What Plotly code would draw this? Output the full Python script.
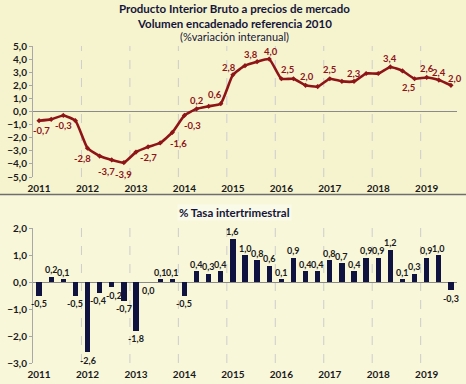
import plotly.graph_objects as go

# ---------------- data ----------------
years = [2011, 2012, 2013, 2014, 2015, 2016, 2017, 2018, 2019]
quarters = [f"{y}T{q}" for y in years for q in range(1, 5)][:35]

# year-on-year % change (top panel)
interanual = [-0.7, -0.6, -0.3, -0.7,
              -2.8, -3.4, -3.7, -3.9,
              -3.1, -2.7, -2.4, -1.6,
              -0.3, 0.2, 0.4, 0.6,
              2.8, 3.5, 3.8, 4.0,
              2.5, 2.5, 2.0, 1.9,
              2.5, 2.3, 2.3, 2.9,
              2.9, 3.4, 3.1, 2.5,
              2.6, 2.4, 2.0]

# quarter-on-quarter % change (bottom panel)
intertrimestral = [-0.5, 0.2, 0.1, -0.5,
                   -2.6, -0.4, -0.2, -0.7,
                   -1.8, 0.0, 0.1, 0.1,
                   -0.5, 0.4, 0.3, 0.4,
                   1.6, 1.0, 0.8, 0.6,
                   0.1, 0.9, 0.4, 0.4,
                   0.8, 0.7, 0.4, 0.9,
                   0.9, 1.2, 0.1, 0.3,
                   0.9, 1.0, -0.3]

# indices of top-panel points that carry a data label
top_label_idx = [0, 2, 4, 6, 7, 9, 11, 12, 13, 15, 16, 18, 19, 20, 22,
                 24, 26, 29, 31, 32, 33, 34]

year_ticks = [str(y) for y in years]

# ---------------- styling ----------------
RED = "#8E1418"
NAVY = "#10123F"
FONT = "Lato"
TXT = "#1A1A1A"

# label pixel offsets (dx, dy; dy positive = down) for the top labels
top_offsets = {0: (2, 10), 2: (0, 10), 4: (-5, 10), 6: (-5, 12), 7: (0, 12),
               9: (0, 11), 11: (6, 11), 12: (8, 10), 13: (0, -8), 15: (-6, -9),
               16: (-4, -7), 18: (-6, -7), 19: (2, -8), 20: (6, -9), 22: (1, -9),
               24: (0, -9), 26: (0, -8), 29: (0, -8), 31: (-6, 9), 32: (0, -9),
               33: (0, -8), 34: (4, -7)}
# horizontal nudges for crowded bottom labels
bottom_dx = {5: -2, 6: 2}

xs = list(range(len(quarters)))

fig = go.Figure()

fig.add_trace(go.Scatter(
    x=xs, y=interanual, mode="lines+markers",
    line=dict(color=RED, width=2.6, shape="spline", smoothing=0.45),
    marker=dict(color=RED, size=4, symbol="diamond"),
    xaxis="x", yaxis="y", showlegend=False, hoverinfo="skip", cliponaxis=False))

fig.add_trace(go.Bar(
    x=xs, y=intertrimestral, width=0.44, marker=dict(color=NAVY, line=dict(width=0)),
    xaxis="x2", yaxis="y2", showlegend=False, hoverinfo="skip"))

annotations = []
for k in top_label_idx:
    dx, dy = top_offsets[k]
    annotations.append(dict(
        x=k, y=interanual[k], xref="x", yref="y",
        text=f"{interanual[k]:.1f}".replace(".", ","),
        showarrow=False, xshift=dx, yshift=-dy, xanchor="center", yanchor="middle",
        font=dict(family=FONT, size=9.5, color=RED, weight="bold")))

for k, v in enumerate(intertrimestral):
    annotations.append(dict(
        x=k, y=v, xref="x2", yref="y2",
        text=f"{v:.1f}".replace(".", ","),
        showarrow=False, yshift=(7 if v > 0 else -8), xshift=bottom_dx.get(k, 0),
        xanchor="center", yanchor="middle",
        font=dict(family=FONT, size=9, color=TXT, weight="bold")))

# titles
def title(text, ypix, size):
    return dict(x=0.503, y=1 - ypix / 384, xref="paper", yref="paper", showarrow=False,
                xanchor="center", yanchor="middle", text=text,
                font=dict(family=FONT, size=size, color="#15153A"))

annotations += [
    title("<b>Producto Interior Bruto a precios de mercado</b>", 8, 11.5),
    title("<b>Volumen encadenado referencia 2010</b>", 23, 11.5),
    title("(%variación interanual)", 37, 11),
    dict(title("<b>% Tasa intertrimestral</b>", 212, 11.5), bgcolor="#FAFAE8"),
]

shapes = [
    dict(type="rect", xref="paper", yref="paper", x0=0, x1=1, y0=1 - 194 / 384, y1=1,
         fillcolor="#F6F4CF", line=dict(width=0), layer="below"),
    dict(type="rect", xref="paper", yref="paper", x0=0, x1=1, y0=0, y1=1 - 194 / 384,
         fillcolor="#F8F7DA", line=dict(width=0), layer="below"),
    dict(type="line", xref="paper", yref="paper", x0=0, x1=1,
         y0=1 - 194.5 / 384, y1=1 - 194.5 / 384,
         line=dict(color="#6E6E6E", width=1.5)),
]

# dashed year separators (between Q4 and Q1)
grid_vals = [3.5 + 4 * i for i in range(8)]
for xr, yr in (("x", "y domain"), ("x2", "y2 domain")):
    for g in grid_vals:
        shapes.append(dict(type="line", xref=xr, yref=yr, x0=g, x1=g, y0=0, y1=1,
                           line=dict(color="#CDCDCD", width=1, dash="dash"),
                           layer="below"))

def xaxis_common(anchor):
    return dict(
        anchor=anchor, domain=[33 / 466, 457 / 466], range=[-0.5, 34.5],
        tickmode="array", tickvals=[4 * i for i in range(len(years))], ticktext=year_ticks,
        showgrid=False, zeroline=False, showline=False, ticks="",
        ticklabelstandoff=4, automargin=False,
        tickfont=dict(family=FONT, size=10, color=TXT, weight="bold"),
        fixedrange=True)

def yaxis_common(anchor, domain, rng):
    return dict(
        anchor=anchor, domain=domain, range=rng, dtick=1, tickformat=".1f",
        showgrid=False, zeroline=True, zerolinecolor="#8A8A8A", zerolinewidth=1,
        showline=True, linecolor="#A8A8A8", linewidth=1,
        ticks="outside", ticklen=3, tickcolor="#A8A8A8", automargin=False,
        tickfont=dict(family=FONT, size=10, color=TXT, weight="bold"),
        fixedrange=True)

fig.update_layout(
    width=466, height=384,
    margin=dict(l=0, r=0, t=0, b=0),
    paper_bgcolor="#F7F6D4", plot_bgcolor="white",
    separators=", ",
    xaxis=xaxis_common("y"),
    yaxis=yaxis_common("x", [1 - 177 / 384, 1 - 46 / 384], [-5, 5]),
    xaxis2=xaxis_common("y2"),
    yaxis2=yaxis_common("x2", [1 - 363 / 384, 1 - 228 / 384], [-3, 2]),
    annotations=annotations, shapes=shapes,
    bargap=0,
)

fig.write_html("out.html", config={"displayModeBar": False},
               post_script="document.body.style.margin='0';document.body.style.padding='0';")
